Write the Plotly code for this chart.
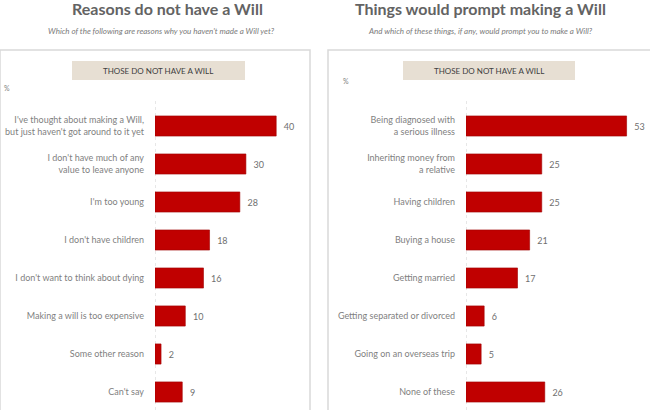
import plotly.graph_objects as go

W, H = 650, 410

reasons = [
    "I've thought about making a Will,<br>but just haven't got around to it yet",
    "I don't have much of any<br>value to leave anyone",
    "I'm too young",
    "I don't have children",
    "I don't want to think about dying",
    "Making a will is too expensive",
    "Some other reason",
    "Can't say",
]
reason_vals = [40, 30, 28, 18, 16, 10, 2, 9]

prompts = [
    "Being diagnosed with<br>a serious illness",
    "Inheriting money from<br>a relative",
    "Having children",
    "Buying a house",
    "Getting married",
    "Getting separated or divorced",
    "Going on an overseas trip",
    "None of these",
]
prompt_vals = [53, 25, 25, 21, 17, 6, 5, 26]

left_title = "Reasons do not have a Will"
right_title = "Things would prompt making a Will"
left_sub = "Which of the following are reasons why you haven't made a Will yet?"
right_sub = "And which of these things, if any, would prompt you to make a Will?"
header = "THOSE DO NOT HAVE A WILL"

BAR = "#c00000"
FONT = "Lato"
LABEL_C = "#7f7f7f"
PX_PER_UNIT = 3.03

def px(x):
    return x / W

def py(y):
    return 1 - y / H

fig = go.Figure()
for cats, vals, xa, ya in [(reasons, reason_vals, "x", "y"), (prompts, prompt_vals, "x2", "y2")]:
    fig.add_trace(go.Bar(
        y=cats, x=vals, orientation="h", xaxis=xa, yaxis=ya,
        marker=dict(color=BAR, line=dict(color="#a00000", width=0.6)),
        width=0.53,
        text=vals, texttemplate="  %{x}", textposition="outside",
        textfont=dict(family=FONT, size=9, color="#6f6f6f"),
        cliponaxis=False, showlegend=False, hoverinfo="skip",
    ))

left_ax0, left_ax1 = 155, 310
right_ax0, right_ax1 = 466, 650
ydom = [0, py(107)]
yr = [-0.5 + 303 / 38, -0.5]

axis_common = dict(showgrid=False, zeroline=False, showline=False, showticklabels=False, fixedrange=True)
ycommon = dict(type="category", range=yr, domain=ydom, showgrid=False, zeroline=False, showline=False,
               ticks="", ticklabelstandoff=10, fixedrange=True,
               tickfont=dict(family=FONT, size=9, color=LABEL_C))

fig.update_layout(
    width=W, height=H,
    margin=dict(l=0, r=0, t=0, b=0),
    paper_bgcolor="white", plot_bgcolor="white",
    xaxis=dict(domain=[px(left_ax0), px(left_ax1)], range=[0, (left_ax1 - left_ax0) / PX_PER_UNIT], **axis_common),
    xaxis2=dict(domain=[px(right_ax0), px(right_ax1)], range=[0, (right_ax1 - right_ax0) / PX_PER_UNIT], anchor="y2", **axis_common),
    yaxis=dict(anchor="x", **ycommon),
    yaxis2=dict(anchor="x2", **ycommon),
    bargap=0.47,
)

shapes = [
    dict(type="rect", xref="paper", yref="paper", x0=px(0), x1=px(310), y0=py(420), y1=py(50),
         line=dict(color="#d9d9d9", width=1.5), layer="below"),
    dict(type="rect", xref="paper", yref="paper", x0=px(328), x1=px(660), y0=py(420), y1=py(50),
         line=dict(color="#d9d9d9", width=1.5), layer="below"),
    dict(type="rect", xref="paper", yref="paper", x0=px(72), x1=px(245), y0=py(80), y1=py(61),
         fillcolor="#e7dfd3", line=dict(width=0), layer="below"),
    dict(type="rect", xref="paper", yref="paper", x0=px(403), x1=px(575), y0=py(80), y1=py(61),
         fillcolor="#e7dfd3", line=dict(width=0), layer="below"),
    dict(type="line", xref="x", yref="paper", x0=0, x1=0, y0=0, y1=py(100),
         line=dict(color="#d0d0d0", width=1, dash="dot"), layer="below"),
    dict(type="line", xref="x2", yref="paper", x0=0, x1=0, y0=0, y1=py(100),
         line=dict(color="#d0d0d0", width=1, dash="dot"), layer="below"),
]
fig.update_layout(shapes=shapes)

ann = []
def add(text, x, y, size, color, bold=False, italic=False, xanchor="center"):
    t = text
    if bold:
        t = "<b>" + t + "</b>"
    if italic:
        t = "<i>" + t + "</i>"
    ann.append(dict(text=t, x=px(x), y=py(y), xref="paper", yref="paper", showarrow=False,
                    xanchor=xanchor, yanchor="middle", font=dict(family=FONT, size=size, color=color)))

add(left_title, 167, 8, 16, "#636363", bold=True)
add(right_title, 480, 8, 16, "#636363", bold=True)
add(left_sub, 161, 31, 8, "#7a7a7a", italic=True)
add(right_sub, 480, 31, 8, "#7a7a7a", italic=True)
add(header, 158, 71, 8, "#404040")
add(header, 489, 71, 8, "#404040")
add("%", 2, 88, 7, "#7f7f7f", xanchor="left")
add("%", 341, 81, 7, "#7f7f7f", xanchor="left")
fig.update_layout(annotations=ann)

fig.write_html("out.html", config={"displayModeBar": False, "staticPlot": True},
               post_script="document.body.style.margin='0';")
